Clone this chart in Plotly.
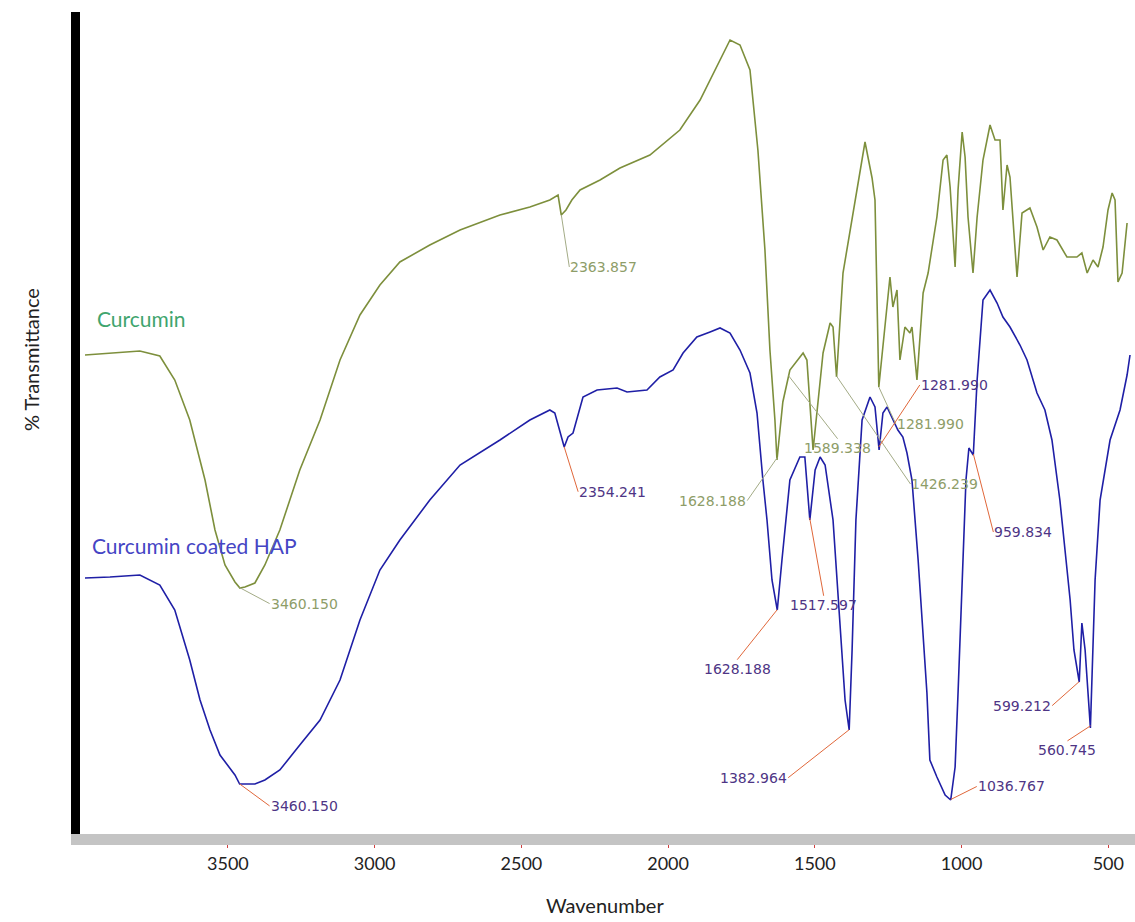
import numpy as np
import plotly.graph_objects as go

# ---------------- data (wavenumber, % transmittance, arbitrary scale) ----------------
cur_wn = [3987, 3902, 3800, 3732, 3681, 3630, 3578, 3544, 3510, 3476, 3459, 3442, 3408, 3374,
          3323, 3255, 3186, 3118, 3050, 2982, 2914, 2812, 2709, 2573, 2471, 2403, 2375, 2364,
          2348, 2328, 2300, 2232, 2164, 2062, 1960, 1891, 1840, 1789, 1755, 1721, 1694, 1670,
          1653, 1636, 1629, 1609, 1585, 1540, 1527, 1506, 1472, 1448, 1438, 1426, 1404, 1380,
          1356, 1329, 1305, 1295, 1282, 1244, 1234, 1220, 1210, 1193, 1176, 1169, 1152, 1131,
          1114, 1084, 1063, 1050, 1039, 1022, 1012, 998, 988, 978, 961, 947, 927, 903, 886, 869,
          859, 845, 835, 825, 811, 794, 767, 743, 722, 699, 675, 641, 607, 590, 572, 552, 535,
          518, 501, 487, 477, 467, 453, 436]
cur_t = [64.5, 64.7, 64.9, 64.4, 62.0, 58.0, 52.0, 47.0, 43.5, 41.8, 41.2, 41.3, 41.7, 43.5,
         47.0, 53.0, 58.0, 64.0, 68.5, 71.5, 73.8, 75.5, 77.0, 78.5, 79.3, 80.0, 80.5, 78.5,
         79.0, 80.0, 81.0, 82.0, 83.2, 84.5, 87.0, 90.0, 93.0, 96.0, 95.5, 93.0, 85.0, 75.0,
         65.0, 58.0, 54.0, 59.8, 63.0, 64.7, 64.0, 55.0, 64.7, 67.7, 67.3, 62.3, 72.7, 77.0,
         81.0, 85.8, 82.2, 80.0, 61.3, 72.3, 69.3, 71.0, 64.0, 67.3, 66.7, 67.3, 62.0, 70.7,
         72.7, 78.3, 84.0, 84.5, 81.3, 73.3, 81.0, 86.8, 84.3, 78.3, 72.7, 78.3, 84.0, 87.5, 86.0,
         86.0, 79.0, 83.5, 82.3, 78.0, 72.3, 78.7, 79.2, 77.3, 75.0, 76.3, 76.0, 74.3, 74.3, 74.7,
         72.7, 74.0, 73.3, 75.3, 79.0, 80.7, 80.0, 71.8, 72.7, 77.7]

hap_wn = [3987, 3902, 3800, 3766, 3732, 3681, 3630, 3595, 3561, 3527, 3476, 3460, 3408, 3374,
          3323, 3255, 3186, 3118, 3050, 2982, 2914, 2812, 2709, 2573, 2471, 2403, 2386, 2354,
          2341, 2324, 2290, 2242, 2174, 2140, 2072, 2028, 1983, 1949, 1902, 1857, 1823, 1789,
          1755, 1721, 1697, 1677, 1663, 1646, 1628, 1612, 1585, 1551, 1534, 1517, 1499, 1482,
          1465, 1438, 1414, 1397, 1383, 1373, 1360, 1339, 1312, 1295, 1281, 1268, 1254, 1244,
          1217, 1200, 1186, 1169, 1148, 1118, 1108, 1084, 1056, 1037, 1022, 1012, 995, 985, 975,
          960, 947, 927, 903, 879, 859, 835, 801, 777, 743, 716, 692, 665, 644, 630, 617, 599,
          590, 579, 561, 555, 545, 528, 494, 460, 436, 426]
hap_t = [42.2, 42.3, 42.5, 42.0, 41.5, 39.0, 34.0, 30.0, 27.0, 24.5, 22.5, 21.6, 21.6, 22.0,
         23.0, 25.5, 28.0, 32.0, 38.0, 43.0, 46.0, 50.0, 53.5, 56.0, 58.0, 59.0, 58.7, 55.3,
         56.3, 56.7, 60.3, 61.0, 61.2, 60.8, 61.0, 62.3, 63.0, 64.7, 66.3, 66.8, 67.2, 66.7,
         65.0, 62.7, 58.7, 52.0, 48.0, 42.0, 39.0, 44.0, 52.0, 54.3, 54.3, 48.0, 53.0, 54.3,
         53.5, 48.0, 38.0, 30.0, 27.0, 35.0, 48.0, 58.0, 60.3, 59.3, 55.0, 58.7, 59.3, 58.7,
         57.0, 56.3, 54.7, 52.0, 44.0, 30.7, 24.0, 22.3, 20.5, 20.0, 23.3, 30.7, 44.0, 52.0, 55.2,
         54.5, 62.0, 70.0, 71.0, 69.7, 68.3, 67.3, 65.5, 64.0, 60.7, 59.0, 56.0, 50.0, 44.0,
         40.0, 35.0, 31.8, 37.7, 35.0, 27.2, 32.3, 42.0, 50.0, 56.0, 59.0, 62.5, 64.5]

cur_peaks = [3460.150, 2363.857, 1628.188, 1589.338, 1426.239, 1281.990]
hap_peaks = [3460.150, 2354.241, 1628.188, 1517.597, 1382.964, 1281.990, 1036.767,
             959.834, 599.212, 560.745]

series_names = ["Curcumin", "Curcumin coated HAP"]
x_ticks = [3500, 3000, 2500, 2000, 1500, 1000, 500]

# ---------------- styling ----------------
CUR_LINE = "#7d8f3c"
CUR_LABEL = "#8e9d68"
CUR_LEAD = "#a3ab86"
HAP_LINE = "#1f1fa6"
HAP_LABEL = "#4e3585"
HAP_LEAD = "#e0673a"

# label placement (pixel offsets of the text relative to the peak, plus anchors)
cur_place = [(30, 16, "left", "middle"), (8, 52, "left", "middle"), (-30, 43, "right", "middle"),
             (49, 63, "center", "top"), (74, 108, "left", "middle"), (17, 37, "left", "middle")]
hap_place = [(30, 22, "left", "middle"), (14, 45, "left", "middle"), (-40, 50, "center", "top"),
             (14, 78, "center", "top"), (-61, 48, "right", "middle"), (41, -62, "left", "middle"),
             (26, -13, "left", "middle"), (20, 78, "left", "middle"), (-27, 24, "right", "middle"),
             (-23, 15, "center", "top")]

fig = go.Figure()
fig.add_trace(go.Scatter(x=cur_wn, y=cur_t, mode="lines", name=series_names[0],
                         line=dict(color=CUR_LINE, width=1.6)))
fig.add_trace(go.Scatter(x=hap_wn, y=hap_t, mode="lines", name=series_names[1],
                         line=dict(color=HAP_LINE, width=1.6)))


def interp_y(wn, xs, ys):
    xs = np.asarray(xs, float)
    ys = np.asarray(ys, float)
    order = np.argsort(xs)
    return float(np.interp(wn, xs[order], ys[order]))


annotations = []
for pk, (ax, ay, xa, ya) in zip(cur_peaks, cur_place):
    annotations.append(dict(x=pk, y=interp_y(pk, cur_wn, cur_t), text=f"{pk:.3f}",
                            showarrow=True, arrowhead=0, arrowwidth=1, arrowcolor=CUR_LEAD,
                            ax=ax, ay=ay, xanchor=xa, yanchor=ya, borderpad=0,
                            font=dict(family="DejaVu Sans", size=14, color=CUR_LABEL)))
for pk, (ax, ay, xa, ya) in zip(hap_peaks, hap_place):
    annotations.append(dict(x=pk, y=interp_y(pk, hap_wn, hap_t), text=f"{pk:.3f}",
                            showarrow=True, arrowhead=0, arrowwidth=1, arrowcolor=HAP_LEAD,
                            ax=ax, ay=ay, xanchor=xa, yanchor=ya, borderpad=0,
                            font=dict(family="DejaVu Sans", size=14, color=HAP_LABEL)))

# series names written on the chart
annotations.append(dict(x=3953, y=68.2, text=series_names[0], showarrow=False, xanchor="left",
                        yanchor="middle", font=dict(family="Lato", size=21, color="#3fa56e")))
annotations.append(dict(x=3970, y=45.5, text=series_names[1], showarrow=False, xanchor="left",
                        yanchor="middle", font=dict(family="Lato", size=21, color="#4545c4")))
# axis titles
annotations.append(dict(xref="paper", yref="paper", x=-0.047, y=0.577, text="% Transmittance",
                        textangle=-90, showarrow=False, xanchor="center", yanchor="middle",
                        font=dict(family="Lato", size=20, color="#222222")))
annotations.append(dict(xref="paper", yref="paper", x=0.4976, y=-0.086, text="Wavenumber",
                        showarrow=False, xanchor="center", yanchor="middle",
                        font=dict(family="Lato", size=20, color="#222222")))

fig.update_layout(
    width=1135, height=922,
    margin=dict(l=80, r=0, t=12, b=88),
    paper_bgcolor="white", plot_bgcolor="white",
    showlegend=False,
    annotations=annotations,
    xaxis=dict(range=[4004, 409], tickvals=x_ticks, ticktext=[str(v) for v in x_ticks],
               showgrid=False, zeroline=False, showline=True, linecolor="#c4c4c4", linewidth=11,
               ticks="outside", ticklen=3, tickcolor="#d04040", tickwidth=1,
               tickfont=dict(family="Lato", size=18, color="#222222")),
    yaxis=dict(range=[16.6, 98.8], showgrid=False, zeroline=False, showline=True,
               linecolor="black", linewidth=9, showticklabels=False, ticks=""),
)

fig.write_html("out.html",
               config={"displayModeBar": False},
               post_script="document.body.style.margin='0';"
                           "document.body.style.overflow='hidden';"
                           "document.documentElement.style.overflow='hidden';")
